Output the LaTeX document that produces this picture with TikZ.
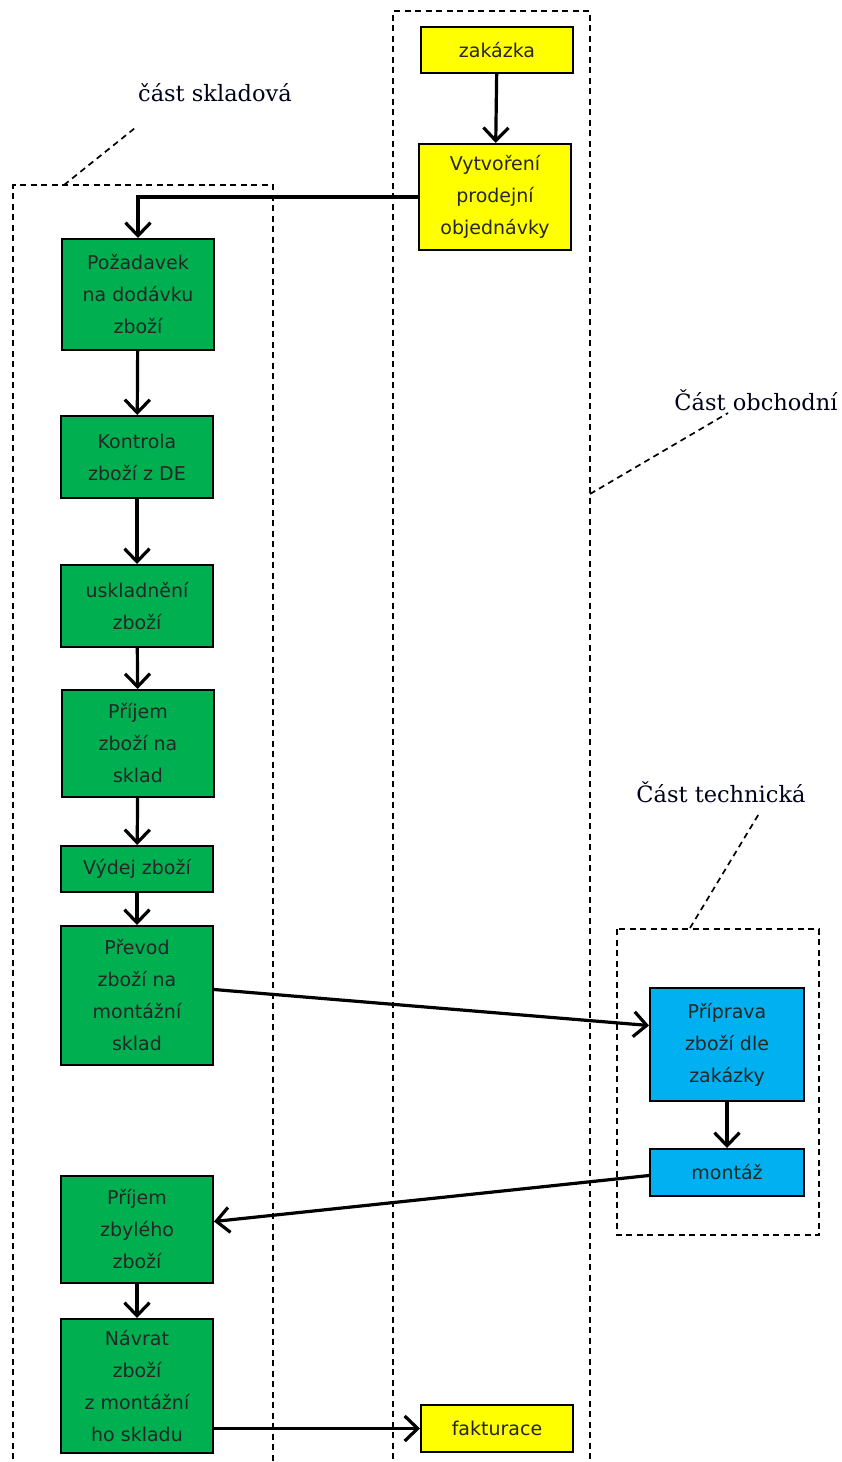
\documentclass[tikz,border=0pt]{standalone}
\usepackage{fontspec}
\setmainfont{DejaVu Serif}
\newfontfamily\boxfont{DejaVu Sans}
\usetikzlibrary{arrows.meta,calc}
\definecolor{skladgreen}{HTML}{00B050}
\definecolor{obchodyellow}{HTML}{FFFF00}
\definecolor{techblue}{HTML}{00B0F0}
\tikzset{
  box/.style={draw=black, line width=2pt, align=center, inner sep=0pt,
    font=\boxfont\fontsize{19}{32}\selectfont, text=black!85},
  gbox/.style={box, fill=skladgreen},
  ybox/.style={box, fill=obchodyellow},
  bbox/.style={box, fill=techblue},
  flow/.style={line width=3.2pt, -{Straight Barb[length=13pt,width=25pt]}},
  zone/.style={line width=1.7pt, dash pattern=on 6pt off 4.5pt},
  zonelabel/.style={font=\fontsize{22.5}{26}\selectfont, text=black!90!blue, inner sep=0pt}
}
\begin{document}
\begin{tikzpicture}[x=1pt,y=-1pt]
\useasboundingbox (0,0) rectangle (842,1462);
\clip (0,0) rectangle (842,1462);

% dashed frames of the three parts
\draw[zone] (13,1480) -- (13,185) -- (273,185) -- (273,1480);
\draw[zone] (393,1480) -- (393,11) -- (590,11) -- (590,1480);
\draw[zone] (617,929) rectangle (819,1235);

% part labels and their pointers
\node[zonelabel] (lsklad) at (215,93) {část skladová};
\node[zonelabel] (lobchod) at (756,400) {Část obchodní};
\node[zonelabel] (ltech) at (721,792) {Část technická};
\coordinate (psklad) at (64,185);
\coordinate (pobchod) at (590,494);
\coordinate (ptech) at (690,928);
\draw[zone] (psklad) -- (135,128);
\draw[zone] (pobchod) -- (728,413);
\draw[zone] (ptech) -- (760,812);

% trade part
\node[ybox, minimum width=152pt, minimum height=46pt] (zak) at (497,50) {zakázka};
\node[ybox, minimum width=152pt, minimum height=106pt] (vyt) at (495,197)
  {Vytvoření\\prodejní\\objednávky};
\node[ybox, minimum width=152pt, minimum height=47pt] (fak) at (497,1428.5) {fakturace};

% warehouse part
\node[gbox, minimum width=152pt, minimum height=111pt] (poz) at (138,294.5)
  {Požadavek\\na dodávku\\zboží};
\node[gbox, minimum width=152pt, minimum height=82pt] (kon) at (137,457)
  {Kontrola\\zboží z DE};
\node[gbox, minimum width=152pt, minimum height=82pt] (usk) at (137,606)
  {uskladnění\\zboží};
\node[gbox, minimum width=152pt, minimum height=107pt] (pri) at (138,743.5)
  {Příjem\\zboží na\\sklad};
\node[gbox, minimum width=152pt, minimum height=46pt] (vyd) at (137,869)
  {Výdej zboží};
\node[gbox, minimum width=152pt, minimum height=139pt] (pre) at (137,995.5)
  {Převod\\zboží na\\montážní\\sklad};
\node[gbox, minimum width=152pt, minimum height=107pt] (zby) at (137,1229.5)
  {Příjem\\zbylého\\zboží};
\node[gbox, minimum width=152pt, minimum height=134pt] (nav) at (137,1386)
  {Návrat\\zboží\\z montážní\\ho skladu};

% technical part
\node[bbox, minimum width=154pt, minimum height=113pt] (pri2) at (727,1044.5)
  {Příprava\\zboží dle\\zakázky};
\node[bbox, minimum width=154pt, minimum height=47pt] (mon) at (727,1172.5) {montáž};

% flow
\draw[flow] (zak) -- (vyt);
\draw[flow] (vyt.west) -| (poz.north);
\draw[flow] (poz) -- (kon);
\draw[flow] (kon) -- (usk);
\draw[flow] (usk) -- (pri);
\draw[flow] (pri) -- (vyd);
\draw[flow] (vyd) -- (pre);
\draw[flow] ([yshift=6pt]pre.east) -- ([yshift=19pt]pri2.west);
\draw[flow] (pri2) -- (mon);
\draw[flow] ([yshift=-3pt]mon.west) -- ([yshift=8pt]zby.east);
\draw[flow] (zby) -- (nav);
\draw[flow] (nav.east |- fak.west) -- (fak.west);
\end{tikzpicture}
\end{document}
